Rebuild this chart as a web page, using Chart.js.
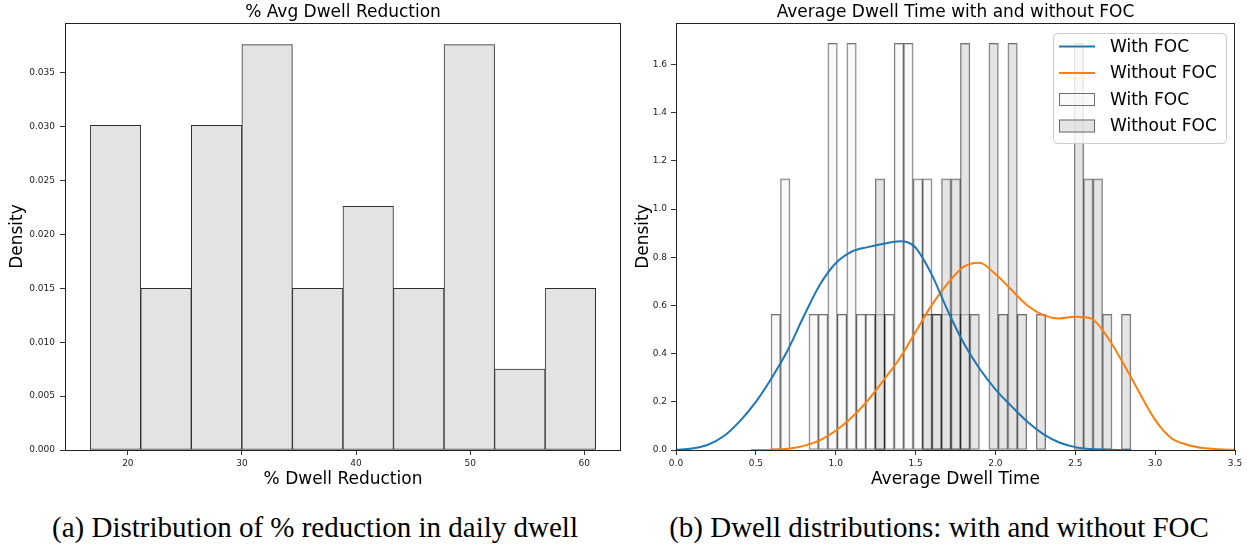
<!DOCTYPE html>
<html>
<head>
<meta charset="utf-8">
<script src="https://cdn.jsdelivr.net/npm/chart.js@4.4.1/dist/chart.umd.min.js"></script>
<style>
  html, body { margin: 0; padding: 0; background: #fff; }
  body { width: 1251px; height: 550px; position: relative; overflow: hidden; }
  .panel { position: absolute; top: 0; height: 500px; }
  #panelA { left: 0; width: 630px; }
  #panelB { left: 630px; width: 621px; }
  .caption {
    position: absolute; top: 511px; line-height: 32px;
    font-family: "Liberation Serif", "DejaVu Serif", serif; font-size: 29px; color: #000;
    white-space: nowrap; transform: translateX(-50%);
  }
</style>
</head>
<body>
<div class="panel" id="panelA"><canvas id="chartA"></canvas></div>
<div class="panel" id="panelB"><canvas id="chartB"></canvas></div>
<div class="caption" style="left:315px">(a) Distribution of % reduction in daily dwell</div>
<div class="caption" style="left:939px">(b) Dwell distributions: with and without FOC</div>

<script>
// ---- Panel (a): % reduction in average daily dwell ----
const reductionBinEdges = [16.7, 21.13, 25.56, 29.99, 34.42, 38.85, 43.28, 47.71, 52.14, 56.57, 61.0];
const reductionDensity = [0.0301, 0.0150, 0.0301, 0.0376, 0.0150, 0.0226, 0.0150, 0.0376, 0.0075, 0.0150];
const reductionTicksX = [20, 30, 40, 50, 60];
const reductionTicksY = [0, 0.005, 0.010, 0.015, 0.020, 0.025, 0.030, 0.035];
const reductionRangeX = [14.49, 63.22];
const reductionMaxY = 0.0396;

// ---- Panel (b): average dwell time with and without FOC ----
const dwellBinEdges = [
  0.595, 0.654, 0.714, 0.773, 0.832, 0.892, 0.951, 1.010, 1.069, 1.129,
  1.188, 1.247, 1.307, 1.366, 1.425, 1.485, 1.544, 1.603, 1.662, 1.722,
  1.781, 1.840, 1.900, 1.959, 2.018, 2.078, 2.137, 2.196, 2.255, 2.315,
  2.374, 2.433, 2.493, 2.552, 2.611, 2.671, 2.730, 2.789, 2.848
];
const withFocDensity = [
  0.5625, 1.125, 0, 0, 0.5625, 0.5625, 1.6875, 0.5625, 1.6875, 0.5625,
  0.5625, 0.5625, 0.5625, 1.6875, 1.6875, 1.125, 1.125, 0.5625, 0.5625, 0.5625,
  0.5625, 0, 0, 0, 0, 0, 0, 0, 0, 0,
  0, 0, 0, 0, 0, 0, 0, 0
];
const withoutFocDensity = [
  0, 0, 0, 0, 0, 0, 0, 0, 0, 0,
  0, 1.125, 0, 0, 0, 0, 0.5625, 0.5625, 1.125, 1.125,
  1.6875, 0.5625, 0, 1.6875, 0.5625, 1.6875, 0.5625, 0, 0.5625, 0,
  0, 0, 1.6875, 1.125, 1.125, 0.5625, 0, 0.5625
];
const kdeWithX = [0, 0.1, 0.2, 0.3, 0.4, 0.5, 0.6, 0.7, 0.8, 0.9, 1.0, 1.1, 1.2, 1.3, 1.4, 1.45, 1.5, 1.6, 1.7, 1.8, 1.9, 2.0, 2.1, 2.2, 2.3, 2.4, 2.5, 2.6, 2.7, 2.85];
const kdeWithY = [0.001, 0.006, 0.022, 0.058, 0.12, 0.2, 0.3, 0.415, 0.555, 0.685, 0.775, 0.823, 0.842, 0.856, 0.866, 0.862, 0.84, 0.73, 0.58, 0.445, 0.338, 0.252, 0.182, 0.117, 0.066, 0.031, 0.012, 0.004, 0.001, 0.0];
const kdeWithoutX = [0.47, 0.6, 0.7, 0.8, 0.9, 1.0, 1.1, 1.2, 1.3, 1.4, 1.5, 1.6, 1.7, 1.8, 1.9, 2.0, 2.1, 2.2, 2.3, 2.4, 2.5, 2.6, 2.7, 2.8, 2.9, 3.0, 3.1, 3.2, 3.3, 3.4, 3.5];
const kdeWithoutY = [0.0, 0.001, 0.005, 0.017, 0.04, 0.08, 0.135, 0.205, 0.29, 0.38, 0.49, 0.60, 0.69, 0.76, 0.777, 0.73, 0.665, 0.60, 0.56, 0.546, 0.553, 0.545, 0.47, 0.36, 0.24, 0.125, 0.05, 0.022, 0.008, 0.003, 0.001];
const dwellTicksX = [0, 0.5, 1.0, 1.5, 2.0, 2.5, 3.0, 3.5];
const dwellTicksY = [0, 0.2, 0.4, 0.6, 0.8, 1.0, 1.2, 1.4, 1.6];
const dwellRangeX = [0, 3.5];
const dwellMaxY = 1.772;

const seriesNames = ['With FOC', 'Without FOC'];
const BLUE = '#1f77b4', ORANGE = '#ff7f0e';
const FONT = '"DejaVu Sans", sans-serif';

// histogram bins -> bar points at the bin centres
function binPoints(edges, values) {
  return values.map((v, i) => ({ x: (edges[i] + edges[i + 1]) / 2, y: v }));
}
function curvePoints(xs, ys) {
  return xs.map((x, i) => ({ x: x, y: ys[i] }));
}

// matplotlib-style box round the plot area
const axesFrame = {
  id: 'axesFrame',
  afterDatasetsDraw(chart) {
    const a = chart.chartArea, ctx = chart.ctx;
    ctx.save();
    ctx.strokeStyle = '#222';
    ctx.lineWidth = 1;
    ctx.strokeRect(Math.round(a.left) + 0.5, Math.round(a.top) + 0.5,
                   Math.round(a.right - a.left) - 1, Math.round(a.bottom - a.top));
    ctx.restore();
  }
};

// panel title centred over the plot area
const panelTitle = {
  id: 'panelTitle',
  afterDraw(chart, args, opts) {
    const a = chart.chartArea, ctx = chart.ctx;
    ctx.save();
    ctx.font = '17px ' + FONT;
    ctx.fillStyle = '#000';
    ctx.textAlign = 'center';
    ctx.textBaseline = 'alphabetic';
    ctx.fillText(opts.text, (a.left + a.right) / 2, opts.y);
    ctx.restore();
  }
};

// framed legend in the upper right of the plot area
const boxedLegend = {
  id: 'boxedLegend',
  afterDraw(chart, args, opts) {
    if (!opts.show) return;
    const ctx = chart.ctx, a = chart.chartArea;
    const w = 173, h = 110;
    const x0 = a.right - 9 - w, y0 = a.top + 10;
    ctx.save();
    ctx.beginPath();
    ctx.roundRect(x0 + 0.5, y0 + 0.5, w, h, 4);
    ctx.fillStyle = 'rgba(255,255,255,0.8)';
    ctx.fill();
    ctx.strokeStyle = '#cccccc';
    ctx.lineWidth = 1;
    ctx.stroke();
    ctx.font = '17px ' + FONT;
    ctx.textBaseline = 'middle';
    chart.data.datasets.forEach((ds, i) => {
      const cy = y0 + 13.5 + i * 26.5;
      const hx = x0 + 6;
      if (ds.type === 'line') {
        ctx.beginPath();
        ctx.moveTo(hx, cy);
        ctx.lineTo(hx + 36, cy);
        ctx.strokeStyle = ds.borderColor;
        ctx.lineWidth = 2;
        ctx.stroke();
      } else {
        ctx.fillStyle = ds.backgroundColor;
        ctx.fillRect(hx, cy - 6.5, 36, 13);
        ctx.strokeStyle = ds.borderColor;
        ctx.lineWidth = 1;
        ctx.strokeRect(hx + 0.5, cy - 6, 35, 12);
      }
      ctx.fillStyle = '#000';
      ctx.fillText(ds.label, x0 + 57, cy + 1);
    });
    ctx.restore();
  }
};

function axisOptions(opts) {
  return {
    type: 'linear',
    min: opts.min,
    max: opts.max,
    offset: false,
    afterBuildTicks(scale) { scale.ticks = opts.ticks.map(v => ({ value: v })); },
    afterFit(scale) {
      if (opts.width !== undefined) scale.width = opts.width;
      if (opts.height !== undefined) scale.height = opts.height;
      scale.paddingLeft = 0; scale.paddingRight = 0;
      scale.paddingTop = 0; scale.paddingBottom = 0;
    },
    border: { display: false },
    grid: { drawOnChartArea: false, drawTicks: true, tickLength: 5, tickColor: '#333', tickWidth: 1, offset: false },
    ticks: {
      color: '#222',
      font: { family: FONT, size: 9 },
      padding: opts.tickPad,
      maxRotation: 0,
      autoSkip: false,
      callback: v => v.toFixed(opts.decimals)
    },
    title: {
      display: true,
      text: opts.title,
      color: '#000',
      font: { family: FONT, size: 17 },
      padding: opts.titlePad
    }
  };
}

Chart.defaults.font.family = FONT;

new Chart(document.getElementById('chartA'), {
  type: 'bar',
  data: {
    datasets: [{
      label: '% Dwell Reduction',
      data: binPoints(reductionBinEdges, reductionDensity),
      backgroundColor: '#e3e3e3',
      borderColor: '#2f2f2f',
      borderWidth: 1,
      borderSkipped: false,
      barPercentage: 1,
      categoryPercentage: 1,
      grouped: false
    }]
  },
  options: {
    responsive: true,
    maintainAspectRatio: false,
    animation: false,
    layout: { padding: { top: 23, right: 9, left: 0, bottom: 0 } },
    scales: {
      x: axisOptions({ min: reductionRangeX[0], max: reductionRangeX[1], ticks: reductionTicksX, decimals: 0,
                       height: 50, tickPad: 3, title: '% Dwell Reduction', titlePad: { top: 0, bottom: 10 } }),
      y: axisOptions({ min: 0, max: reductionMaxY, ticks: reductionTicksY, decimals: 3,
                       width: 65, tickPad: 5, title: 'Density', titlePad: { top: 7, bottom: 0 } })
    },
    plugins: {
      legend: { display: false },
      tooltip: { enabled: false },
      panelTitle: { text: '% Avg Dwell Reduction', y: 17 },
      boxedLegend: { show: false }
    }
  },
  plugins: [axesFrame, panelTitle, boxedLegend]
});

new Chart(document.getElementById('chartB'), {
  type: 'bar',
  data: {
    datasets: [
      {
        type: 'line', label: seriesNames[0],
        data: curvePoints(kdeWithX, kdeWithY),
        borderColor: BLUE, borderWidth: 2, pointRadius: 0, fill: false,
        cubicInterpolationMode: 'monotone', order: 0
      },
      {
        type: 'line', label: seriesNames[1],
        data: curvePoints(kdeWithoutX, kdeWithoutY),
        borderColor: ORANGE, borderWidth: 2, pointRadius: 0, fill: false,
        cubicInterpolationMode: 'monotone', order: 0
      },
      {
        type: 'bar', label: seriesNames[0],
        data: binPoints(dwellBinEdges, withFocDensity),
        backgroundColor: 'rgba(245,245,245,0.6)',
        borderColor: 'rgba(0,0,0,0.55)',
        borderWidth: 1, borderSkipped: false,
        barPercentage: 1, categoryPercentage: 1, grouped: false, order: 2
      },
      {
        type: 'bar', label: seriesNames[1],
        data: binPoints(dwellBinEdges, withoutFocDensity),
        backgroundColor: 'rgba(211,211,211,0.6)',
        borderColor: 'rgba(0,0,0,0.55)',
        borderWidth: 1, borderSkipped: false,
        barPercentage: 1, categoryPercentage: 1, grouped: false, order: 1
      }
    ]
  },
  options: {
    responsive: true,
    maintainAspectRatio: false,
    animation: false,
    layout: { padding: { top: 23, right: 16, left: 0, bottom: 0 } },
    scales: {
      x: axisOptions({ min: dwellRangeX[0], max: dwellRangeX[1], ticks: dwellTicksX, decimals: 1,
                       height: 50, tickPad: 3, title: 'Average Dwell Time', titlePad: { top: 0, bottom: 10 } }),
      y: axisOptions({ min: 0, max: dwellMaxY, ticks: dwellTicksY, decimals: 1,
                       width: 46, tickPad: 4, title: 'Density', titlePad: { top: 3, bottom: 0 } })
    },
    plugins: {
      legend: { display: false },
      tooltip: { enabled: false },
      panelTitle: { text: 'Average Dwell Time with and without FOC', y: 17 },
      boxedLegend: { show: true }
    }
  },
  plugins: [axesFrame, panelTitle, boxedLegend]
});
</script>
</body>
</html>
